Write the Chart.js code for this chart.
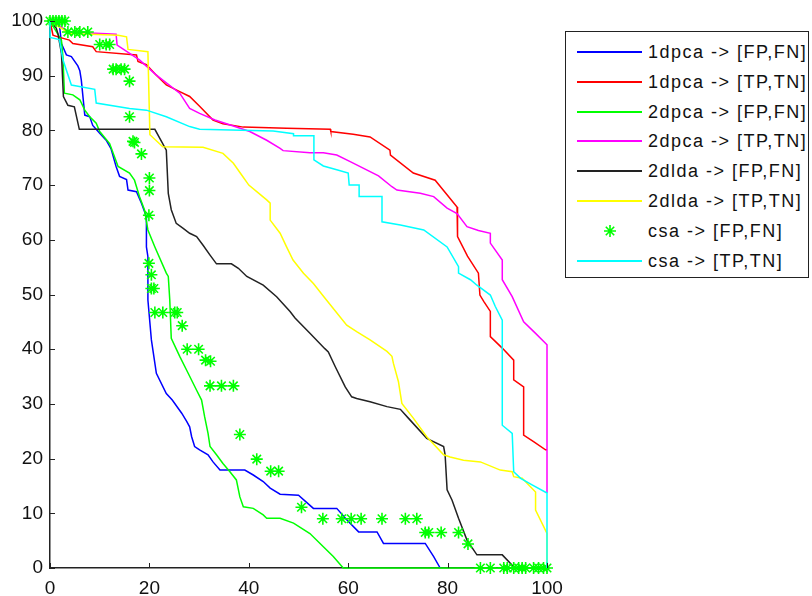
<!DOCTYPE html>
<html>
<head>
<meta charset="utf-8">
<script src="https://cdn.jsdelivr.net/npm/chart.js@4.4.1/dist/chart.umd.min.js"></script>
<style>
  body { margin: 0; background: #fff; }
  #wrap { position: relative; width: 812px; height: 596px; }
  #legend {
    position: absolute; left: 565px; top: 31px; width: 242px; height: 245px;
    border: 1px solid #222; background: #fff;
    font-family: 'Liberation Sans', Arial, sans-serif; font-size: 18px; letter-spacing: 1.5px; color: #111;
  }
  .item { position: absolute; left: 0; height: 20px; }
  .item .sample { position: absolute; left: 11px; top: 9px; width: 65px; height: 2px; }
  .item svg { position: absolute; left: 37px; top: 3px; }
  .item .txt { position: absolute; left: 82px; top: 0; white-space: nowrap; line-height: 20px; }
</style>
</head>
<body>
<div id="wrap">
  <canvas id="rocCanvas" width="812" height="596"></canvas>
  <div id="legend"></div>
</div>
<script>
// series labels and colours (MATLAB default letters)
const labels = ['1dpca -> [FP,FN]', '1dpca -> [TP,TN]', '2dpca -> [FP,FN]', '2dpca -> [TP,TN]',
                '2dlda -> [FP,FN]', '2dlda -> [TP,TN]', 'csa -> [FP,FN]', 'csa -> [TP,TN]'];
const colors = ['#0000ff', '#ff0000', '#00ff00', '#ff00ff', '#222222', '#ffff00', '#00ff00', '#00ffff'];

const xTicks = [0, 20, 40, 60, 80, 100];
const yTicks = [0, 10, 20, 30, 40, 50, 60, 70, 80, 90, 100];

// [x, y] points
const pca1Fp = [[0,100],[1.9,99.3],[2.3,95.9],[3.3,93.8],[4.3,93.5],[5.6,91.8],[6,90.9],[6.3,89.2],[7,82.8],[8,82.5],[8.6,80.9],[10,79.5],[11.3,78.2],[12.3,76.6],[13.3,73.4],[14,71.6],[15.4,71],[15.7,69.1],[17.4,68.8],[18.4,66.7],[19.4,64.2],[19.4,58.7],[19.7,56.9],[19.7,49],[20.4,41.7],[21.4,35.6],[23.4,31.9],[24.6,30.7],[26.5,28.3],[27.5,26.8],[28.1,25.8],[28.5,24],[29.1,22.2],[30.1,21.6],[31.8,20.7],[32.8,19.4],[34.2,17.9],[39.2,17.9],[40.9,17],[42.9,15.8],[44.3,14.6],[46.3,13.5],[50,13.3],[53,10.9],[57.7,10.9],[59.7,8.8],[62.1,6.6],[65.8,6.6],[67.1,4.5],[75.5,4.5],[77.2,2.1],[78.5,0]];
const pca1Tp = [[0,100],[0.6,97.4],[1.6,97.1],[3.9,96.5],[4.6,95.9],[8.6,95.3],[9.3,94.4],[17.4,93.8],[17.7,92.6],[19.4,92],[21.4,90.1],[23.4,88.3],[26.1,87.1],[28.1,86.2],[30.1,84.4],[32.8,81.9],[34.8,81.2],[38.9,80.6],[47.6,80.4],[56.4,80.2],[56.5,79.8],[61,79.3],[64.4,78.8],[68.4,76.4],[68.5,75.5],[73.1,72.2],[77.5,70.9],[81.9,66],[82,60.6],[84,57],[86.2,53.9],[86.5,49.9],[87.3,48.7],[88.6,46.9],[88.6,42.3],[91,40.2],[93.3,38],[93.3,34.4],[95.3,33.1],[95.3,24.3],[97.3,23.1],[99.7,21.6],[100,21.6]];
const pca2Fp = [[0,100],[2.3,96.5],[2.6,93.5],[2.9,86.8],[4.6,86.5],[6,85.6],[7,83.7],[8,82.5],[9.3,81.3],[10,79.8],[12,77.6],[13.7,73.4],[16,72.2],[17,70.9],[18,67.9],[19,65.5],[19.7,61.8],[21.1,58.7],[23.4,53.9],[23.8,53.3],[24.1,49],[24.4,42],[26.1,38.7],[27.8,35.6],[29.5,32.5],[30.5,30.7],[31.1,27.7],[31.8,24.6],[32.2,22.2],[33.5,20.7],[34.8,19.1],[36.2,17.6],[37.5,16.1],[38.2,13],[38.9,11.2],[40.9,10.9],[42.9,9.7],[43.6,9.1],[46.3,9.1],[49,8.2],[52.3,6.3],[55,3.9],[57,2.1],[59,0],[100,0]];
const pca2Tp = [[0,100],[3.9,98],[13.3,97.6],[13.5,95.6],[18,92.9],[21.4,90.1],[26.1,86.8],[28.1,84],[30.1,83.1],[33.2,81.9],[36.9,80.8],[40.2,79.8],[43.6,78.2],[46.3,76.7],[46.9,76.3],[52.3,75.9],[55,75.9],[57.7,75.5],[60.4,74.3],[66.1,71.7],[68.8,69.7],[69.8,69.1],[74.5,68.5],[77.2,67.9],[79.9,65.8],[81.9,64.8],[83.9,62.4],[86.2,61.7],[88.6,61.2],[88.6,59.4],[91,56.3],[91,52.7],[93,49.6],[95.3,45],[97.7,42.9],[100,40.8],[100,13.7]];
const lda2Fp = [[0,100],[1.25,98.7],[1.6,97.7],[2.3,94.1],[2.7,86.2],[3.6,84.6],[4.9,84.3],[5.9,80.2],[21.1,80.2],[23.4,76.4],[23.8,68.5],[24.4,65.5],[25.4,63],[26.8,62.1],[28.1,61.2],[29.5,60.6],[30.8,59],[32.2,57.2],[33.5,55.6],[36.5,55.6],[37.9,54.8],[39.6,53.3],[42.9,51.7],[45.6,49.6],[48.3,46.9],[49.3,45.7],[52.3,42.9],[55.3,40.1],[56,39.5],[57.4,36.8],[59.4,33.1],[60.7,31.3],[61.7,31],[64.4,30.4],[67.8,29.5],[70.5,29],[72.1,27.4],[75.8,23.7],[79.2,22.2],[79.5,20.7],[79.9,14.3],[80.9,12.4],[82.2,9.1],[83.9,5.1],[85.9,2.4],[91,2.4],[93,0.5],[93.5,0]];
const lda2Tp = [[0,100],[3.9,97.7],[13.7,97.4],[15.4,97.1],[15.7,94.8],[19.7,94.4],[20.1,79.2],[22.7,77],[30.8,76.9],[34.8,75.8],[36.9,74],[38.6,71.8],[40,70],[41.6,68.8],[43.6,67.3],[44.3,66.7],[44.3,63.6],[46.3,61.2],[47.6,58.7],[48.9,56.3],[51,53.9],[53,52],[55.1,49.6],[57.2,47.2],[59.7,44.4],[61.7,43.2],[64.4,41.7],[67.8,39.6],[68.8,38.7],[69.1,37.4],[70.1,34.1],[70.8,30.1],[73.1,27.4],[75.8,24],[79.2,20.7],[80.5,20.3],[83.2,19.7],[86.6,19.4],[90.6,17.9],[93,17.6],[93.3,16.7],[95,16.4],[97.7,13.9],[97.7,10.6],[100,6.3],[100,0]];
const csaFp = [[0,100],[0.6,100],[1.2,100],[1.8,100],[2.4,100],[3,100],[3.6,98],[5,98],[6,98],[7.6,98],[10,95.7],[11.3,95.7],[12,95.7],[12.7,91.2],[13.3,91.2],[14.3,91.2],[15,91.2],[16,89],[16,82.5],[16.7,78],[17,77.8],[18.4,75.7],[20,71.3],[20,69],[19.9,64.5],[19.9,55.7],[20.4,53.6],[20.4,51.1],[20.9,51.1],[21.1,46.7],[22.7,46.7],[25.1,46.7],[25.6,46.7],[26.6,44.3],[27.6,40],[29.9,40],[31.3,38],[32.3,37.8],[32.2,33.3],[34.5,33.3],[36.9,33.3],[38.2,24.4],[41.6,19.9],[44.4,17.7],[46,17.7],[50.6,11.1],[54.9,9],[58.7,9],[60.6,9],[62.6,9],[66.8,9],[71.5,9],[73.8,9],[75.5,6.5],[76.2,6.5],[78.7,6.5],[82.2,6.5],[84.1,4.4],[86.6,0],[88.6,0],[91.3,0],[92,0],[93.3,0],[94.3,0],[95,0],[95.7,0],[97.3,0],[98.3,0],[99.3,0],[100,0]];
const csaTp = [[0,100],[0,97],[1.9,96.6],[2.6,92.9],[4.3,88.3],[9,87.5],[9.3,85],[16,84],[19.4,83.7],[23.4,82.5],[28.1,80.7],[30.1,80.2],[44.9,79.9],[49,79.4],[49,79],[53.1,79],[53.1,74.6],[55,73.5],[57.7,72.8],[60,72.2],[60.2,70],[62.2,70],[62.2,67.9],[66.8,67.9],[66.8,63.3],[70.5,62.7],[75.2,61.8],[79.9,58.7],[82.2,55.1],[82.2,53.9],[84.6,52.7],[85.9,51.7],[88.6,49.9],[89.6,47.8],[91,45.3],[91,26.1],[93,24.6],[93.3,17.6],[94.7,16.4],[97,15.2],[100,13.7],[100,0]];

const series = [pca1Fp, pca1Tp, pca2Fp, pca2Tp, lda2Fp, lda2Tp, csaFp, csaTp];
const starIndex = 6;

Chart.defaults.font.family = "'Liberation Sans', Arial, sans-serif";
Chart.defaults.color = '#111';

var datasets = series.map(function (pts, i) {
  var isStar = i == starIndex;
  return {
    label: labels[i],
    data: pts.map(function (p) { return { x: p[0], y: p[1] }; }),
    showLine: !isStar,
    borderColor: colors[i],
    backgroundColor: colors[i],
    borderWidth: isStar ? 1.6 : 1.5,
    pointStyle: isStar ? 'star' : 'circle',
    pointRadius: isStar ? 6 : 0,
    pointHoverRadius: isStar ? 6 : 0,
    tension: 0,
    clip: false,
    order: series.length - 1 - i   // later series drawn on top, like MATLAB
  };
});

// MATLAB style inward tick marks
const inwardTicks = {
  id: 'inwardTicks',
  afterDatasetsDraw(chart) {
    var ctx = chart.ctx, xs = chart.scales.x, ys = chart.scales.y, a = chart.chartArea;
    ctx.save();
    ctx.strokeStyle = '#222';
    ctx.lineWidth = 1;
    ctx.beginPath();
    xTicks.forEach(function (v) {
      var px = Math.round(xs.getPixelForValue(v)) + 0.5;
      ctx.moveTo(px, a.bottom); ctx.lineTo(px, a.bottom - 5);
    });
    yTicks.forEach(function (v) {
      var py = Math.round(ys.getPixelForValue(v)) + 0.5;
      ctx.moveTo(a.left, py); ctx.lineTo(a.left + 5, py);
    });
    ctx.stroke();
    ctx.restore();
  }
};

var chart = new Chart(document.getElementById('rocCanvas'), {
  type: 'scatter',
  data: { datasets: datasets },
  options: {
    responsive: false,
    animation: false,
    layout: { padding: { top: 21, right: 265, left: 0, bottom: 0 } },
    plugins: { legend: { display: false }, tooltip: { enabled: false } },
    scales: {
      x: {
        type: 'linear', min: 0, max: 100,
        afterBuildTicks: function (s) { s.ticks = xTicks.map(function (v) { return { value: v }; }); },
        ticks: { font: { size: 19 }, color: '#111', padding: 9, maxRotation: 0 },
        grid: { display: false, drawTicks: false },
        border: { display: true, color: '#222', width: 1.5 },
        afterFit: function (s) { s.height = 28; }
      },
      y: {
        type: 'linear', min: 0, max: 100,
        afterBuildTicks: function (s) { s.ticks = yTicks.map(function (v) { return { value: v }; }); },
        ticks: { font: { size: 19 }, color: '#111', padding: 7 },
        grid: { display: false, drawTicks: false },
        border: { display: true, color: '#222', width: 1.5 },
        afterFit: function (s) { s.width = 50; }
      }
    }
  },
  plugins: [inwardTicks]
});

// legend box, MATLAB style
var legendBox = document.getElementById('legend');
labels.forEach(function (text, i) {
  var item = document.createElement('div');
  item.className = 'item';
  item.style.top = (10 + i * 29.8) + 'px';
  item.style.width = '100%';
  if (i == starIndex) {
    item.innerHTML = '<svg width="14" height="14" viewBox="-7 -7 14 14">' +
      '<path d="M-6 0H6M0 -6V6M-4.2 -4.2L4.2 4.2M-4.2 4.2L4.2 -4.2" stroke="' + colors[i] + '" stroke-width="1.6"/></svg>';
  } else {
    item.innerHTML = '<div class="sample" style="background:' + colors[i] + '"></div>';
  }
  var t = document.createElement('span');
  t.className = 'txt';
  t.textContent = text;
  item.appendChild(t);
  legendBox.appendChild(item);
});
</script>
</body>
</html>
